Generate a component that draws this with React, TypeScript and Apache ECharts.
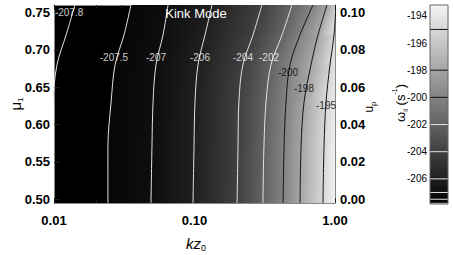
import React, { useEffect, useRef } from 'react';
import * as echarts from 'echarts';

// ---- data ----
const muRows = [0.76, 0.72, 0.68, 0.63, 0.57, 0.495];
const contourLevels = [-207.8, -207.5, -207, -206, -204, -202, -200, -198, -195];
// kz position of each contour level at each mu row
const contourKz: number[][] = [
  [0.0141, 0.0122, 0.0105, 0.0098, 0.0094, 0.0093],
  [0.0353, 0.0315, 0.0272, 0.0255, 0.0242, 0.0242],
  [0.0648, 0.0597, 0.0532, 0.0507, 0.0498, 0.049],
  [0.1333, 0.1188, 0.1059, 0.1008, 0.0992, 0.0976],
  [0.302, 0.261, 0.221, 0.207, 0.204, 0.201],
  [0.494, 0.42, 0.35, 0.323, 0.312, 0.307],
  [0.697, 0.564, 0.478, 0.448, 0.434, 0.427],
  [0.877, 0.757, 0.675, 0.602, 0.573, 0.564],
  [1.016, 0.984, 0.921, 0.863, 0.835, 0.821],
];
// value at kz = 1.0 for each mu row
const edgeValue = [-195.1, -194.7, -194.3, -193.9, -193.6, -193.3];
const kzMin = 0.01;
const kzMax = 1.0;
// contour label positions
const labelKz = [0.0128, 0.0267, 0.0532, 0.1094, 0.2214, 0.339, 0.463, 0.601, 0.863];
const labelMu = [0.7493, 0.6904, 0.6904, 0.6904, 0.6904, 0.6904, 0.669, 0.6476, 0.6261];

const muMin = 0.495;
const muMax = 0.76;
const upMin = -0.002;
const upMax = 0.104;
const muTicks = [0.5, 0.55, 0.6, 0.65, 0.7, 0.75];
const upTicks = [0, 0.02, 0.04, 0.06, 0.08, 0.1];
const upMinorTicks = [0.005, 0.01, 0.015, 0.025, 0.03, 0.035, 0.045, 0.05, 0.055, 0.065, 0.07, 0.075, 0.085, 0.09, 0.095];
const kzMinorTicks = [0.02, 0.03, 0.04, 0.05, 0.06, 0.07, 0.08, 0.09, 0.2, 0.3, 0.4, 0.5, 0.6, 0.7, 0.8, 0.9];
const cbMin = -207.85;
const cbMax = -193.2;
const cbTicks = [-206, -204, -202, -200, -198, -196, -194];

const FONT = 'Liberation Sans, Arial, Helvetica, sans-serif';

function gray(v: number): string {
  let t = (v - cbMin) / (cbMax - cbMin);
  t = Math.max(0, Math.min(1, t));
  const g = Math.round(t * 245);
  return `rgb(${g},${g},${g})`;
}
const lineColor = (lv: number) => (lv <= -202 ? '#e4e4e4' : '#151515');

export default function App() {
  const ref = useRef<HTMLDivElement>(null);
  useEffect(() => {
    if (!ref.current) return;
    const chart = echarts.init(ref.current, undefined, { renderer: 'svg' });

    // fill columns: contours from -207.5 up, then the right edge
    const nCols = contourLevels.length; // 8 contours (index1..8) + edge
    const colKz = (c: number, r: number) => (c < nCols - 1 ? contourKz[c + 1][r] : kzMax);
    const colV = (c: number, r: number) => (c < nCols - 1 ? contourLevels[c + 1] : edgeValue[r]);
    const fillData: number[][] = [];
    const fillIdx: number[][] = [];
    for (let j = 0; j < muRows.length - 1; j++) {
      for (let i = 0; i < nCols - 1; i++) {
        fillData.push([colKz(i, j), muRows[j]]);
        fillIdx.push([j, i]);
      }
    }

    const fillSeries = {
      type: 'custom',
      xAxisIndex: 0,
      yAxisIndex: 0,
      clip: true,
      silent: true,
      z: 1,
      data: fillData,
      renderItem: (params: any, api: any) => {
        const [j, i] = fillIdx[params.dataIndex];
        const A = api.coord([colKz(i, j), muRows[j]]);
        const B = api.coord([colKz(i + 1, j), muRows[j]]);
        const C = api.coord([colKz(i + 1, j + 1), muRows[j + 1]]);
        const D = api.coord([colKz(i, j + 1), muRows[j + 1]]);
        const v0 = contourLevelsAvg(i, j, colV);
        const v1 = contourLevelsAvg(i + 1, j, colV);
        const P0 = [(A[0] + D[0]) / 2, (A[1] + D[1]) / 2];
        const P1 = [(B[0] + C[0]) / 2, (B[1] + C[1]) / 2];
        const dx = D[0] - A[0];
        const dy = D[1] - A[1];
        const len = Math.hypot(dx, dy) || 1;
        let n = [dy / len, -dx / len];
        let dist = (P1[0] - P0[0]) * n[0] + (P1[1] - P0[1]) * n[1];
        if (dist < 0) {
          n = [-n[0], -n[1]];
          dist = -dist;
        }
        if (dist < 0.5) dist = 0.5;
        const grad = new echarts.graphic.LinearGradient(
          P0[0], P0[1], P0[0] + n[0] * dist, P0[1] + n[1] * dist,
          [{ offset: 0, color: gray(v0) }, { offset: 1, color: gray(v1) }],
          true
        );
        const pts = [
          [A[0], A[1]],
          [B[0] + 1, B[1]],
          [C[0] + 1, C[1] + 1],
          [D[0], D[1] + 1],
        ];
        return { type: 'polygon', shape: { points: pts }, style: { fill: grad } };
      },
    };

    function contourLevelsAvg(c: number, j: number, f: (c: number, r: number) => number) {
      return (f(c, j) + f(c, j + 1)) / 2;
    }

    const lineSeries = contourLevels.map((lv, k) => ({
      type: 'line',
      xAxisIndex: 0,
      yAxisIndex: 0,
      data: muRows.map((mu, r) => [contourKz[k][r], mu]),
      showSymbol: false,
      symbol: 'none',
      smooth: 0.35,
      clip: true,
      silent: true,
      z: 3,
      lineStyle: { color: lineColor(lv), width: 1 },
    }));

    const labelSeries = {
      type: 'scatter',
      xAxisIndex: 0,
      yAxisIndex: 0,
      symbolSize: 0,
      silent: true,
      z: 5,
      data: contourLevels.map((lv, k) => ({
        value: [labelKz[k], labelMu[k]],
        label: {
          show: true,
          position: 'inside',
          formatter: String(lv),
          color: lv <= -202 ? '#ffffff' : '#000000',
          fontSize: 10,
          fontFamily: FONT,
        },
      })),
    };

    const colorbarSeries = {
      type: 'custom',
      xAxisIndex: 4,
      yAxisIndex: 3,
      silent: true,
      data: [[0.5, cbMin]],
      renderItem: (params: any, api: any) => {
        const tl = api.coord([0, cbMax]);
        const br = api.coord([1, cbMin]);
        const children: any[] = [
          {
            type: 'rect',
            shape: { x: tl[0], y: tl[1], width: br[0] - tl[0], height: br[1] - tl[1] },
            style: {
              fill: new echarts.graphic.LinearGradient(0, 0, 0, 1, [
                { offset: 0, color: gray(cbMax) },
                { offset: 1, color: gray(cbMin) },
              ]),
            },
          },
        ];
        contourLevels.forEach((lv) => {
          const p = api.coord([0, lv]);
          if (p[1] < tl[1] || p[1] > br[1]) return;
          children.push({
            type: 'line',
            shape: { x1: tl[0], y1: p[1], x2: br[0], y2: p[1] },
            style: { stroke: lineColor(lv), lineWidth: 1 },
          });
        });
        children.push({
          type: 'rect',
          shape: { x: tl[0], y: tl[1], width: br[0] - tl[0], height: br[1] - tl[1] },
          style: { fill: 'none', stroke: '#666', lineWidth: 1 },
        });
        return { type: 'group', children };
      },
    };

    const tickLabel = {
      fontSize: 13,
      fontWeight: 'bold',
      color: '#000',
      fontFamily: FONT,
    };
    const axisLine = { show: true, onZero: false, lineStyle: { color: '#888', width: 1 } };
    const noLine = { show: false, onZero: false };

    const option: any = {
      animation: false,
      backgroundColor: '#fff',
      grid: [
        { left: 54, top: 5, width: 281, height: 198, show: true, backgroundColor: '#000', borderWidth: 0 },
        { left: 430, top: 5, width: 18, height: 199 },
      ],
      xAxis: [
        {
          gridIndex: 0, type: 'log', logBase: 10, min: kzMin, max: kzMax, position: 'bottom',
          axisLine, splitLine: { show: false },
          axisTick: { show: true, inside: true, length: 5, lineStyle: { color: '#222' } },
          axisLabel: { ...tickLabel, margin: 11, formatter: (v: number) => v.toFixed(2) },
        },
        {
          gridIndex: 0, type: 'value', min: Math.log10(kzMin), max: Math.log10(kzMax), position: 'bottom',
          axisLine: noLine, splitLine: { show: false }, axisLabel: { show: false },
          axisTick: { show: true, inside: true, length: 3, lineStyle: { color: '#222' }, customValues: kzMinorTicks.map((v) => Math.log10(v)) },
        },
        {
          gridIndex: 0, type: 'log', logBase: 10, min: kzMin, max: kzMax, position: 'top',
          axisLine, splitLine: { show: false }, axisLabel: { show: false },
          axisTick: { show: true, inside: true, length: 5, lineStyle: { color: '#222' } },
        },
        {
          gridIndex: 0, type: 'value', min: Math.log10(kzMin), max: Math.log10(kzMax), position: 'top',
          axisLine: noLine, splitLine: { show: false }, axisLabel: { show: false },
          axisTick: { show: true, inside: true, length: 3, lineStyle: { color: '#222' }, customValues: kzMinorTicks.map((v) => Math.log10(v)) },
        },
        { gridIndex: 1, type: 'value', min: 0, max: 1, show: false },
      ],
      yAxis: [
        {
          gridIndex: 0, type: 'value', min: muMin, max: muMax, position: 'left',
          axisLine, splitLine: { show: false },
          axisTick: { show: true, inside: true, length: 5, lineStyle: { color: '#222' }, customValues: muTicks },
          axisLabel: { ...tickLabel, margin: 4, customValues: muTicks, formatter: (v: number) => v.toFixed(2) },
        },
        {
          gridIndex: 0, type: 'value', min: upMin, max: upMax, position: 'right',
          axisLine, splitLine: { show: false },
          axisTick: { show: true, inside: true, length: 5, lineStyle: { color: '#333' }, customValues: upTicks },
          axisLabel: { ...tickLabel, margin: 5, customValues: upTicks, formatter: (v: number) => v.toFixed(2) },
        },
        {
          gridIndex: 0, type: 'value', min: upMin, max: upMax, position: 'right',
          axisLine: noLine, splitLine: { show: false }, axisLabel: { show: false },
          axisTick: { show: true, inside: true, length: 3, lineStyle: { color: '#333' }, customValues: upMinorTicks },
        },
        {
          gridIndex: 1, type: 'value', min: cbMin, max: cbMax, position: 'left',
          axisLine: noLine, splitLine: { show: false }, axisTick: { show: false },
          axisLabel: { fontSize: 10, color: '#000', fontFamily: FONT, margin: 3, customValues: cbTicks },
        },
      ],
      series: [fillSeries, ...lineSeries, labelSeries, colorbarSeries],
      graphic: [
        {
          type: 'text', x: 196, y: 13, z: 10,
          style: { text: 'Kink Mode', fill: '#fff', fontSize: 13, fontFamily: FONT, align: 'center', verticalAlign: 'middle' },
        },
        {
          type: 'text', x: 196, y: 243,
          style: {
            text: '{k|kz}{s|0}', align: 'center', verticalAlign: 'middle',
            rich: {
              k: { fontSize: 15, fontStyle: 'italic', fontFamily: FONT, fill: '#000', lineHeight: 18 },
              s: { fontSize: 9, fontFamily: FONT, fill: '#000', verticalAlign: 'bottom', lineHeight: 12 },
            },
          },
        },
        {
          type: 'text', x: 15, y: 104, rotation: Math.PI / 2,
          style: {
            text: '{m|μ}{s|1}', align: 'center', verticalAlign: 'middle',
            rich: {
              m: { fontSize: 15, fontFamily: FONT, fill: '#000', lineHeight: 18 },
              s: { fontSize: 8, fontFamily: FONT, fill: '#000', verticalAlign: 'bottom', lineHeight: 11 },
            },
          },
        },
        {
          type: 'text', x: 369, y: 107, rotation: Math.PI / 2,
          style: {
            text: '{m|u}{s|p}', align: 'center', verticalAlign: 'middle',
            rich: {
              m: { fontSize: 12, fontFamily: FONT, fill: '#000', lineHeight: 16 },
              s: { fontSize: 8, fontFamily: FONT, fill: '#000', verticalAlign: 'bottom', lineHeight: 10 },
            },
          },
        },
        {
          type: 'text', x: 400, y: 103, rotation: Math.PI / 2,
          style: {
            text: '{m|ω}{s|ii} {m|(s}{p|-1}{m|)}', align: 'center', verticalAlign: 'middle',
            rich: {
              m: { fontSize: 13, fontFamily: FONT, fill: '#000', lineHeight: 18 },
              s: { fontSize: 7, fontFamily: FONT, fill: '#000', verticalAlign: 'bottom', lineHeight: 10 },
              p: { fontSize: 7, fontFamily: FONT, fill: '#000', verticalAlign: 'top', lineHeight: 10 },
            },
          },
        },
      ],
    };
    chart.setOption(option);
    return () => chart.dispose();
  }, []);
  return (
    <div
      ref={ref}
      style={{ position: 'fixed', left: 0, top: 0, width: 453, height: 255, background: '#fff' }}
    />
  );
}
